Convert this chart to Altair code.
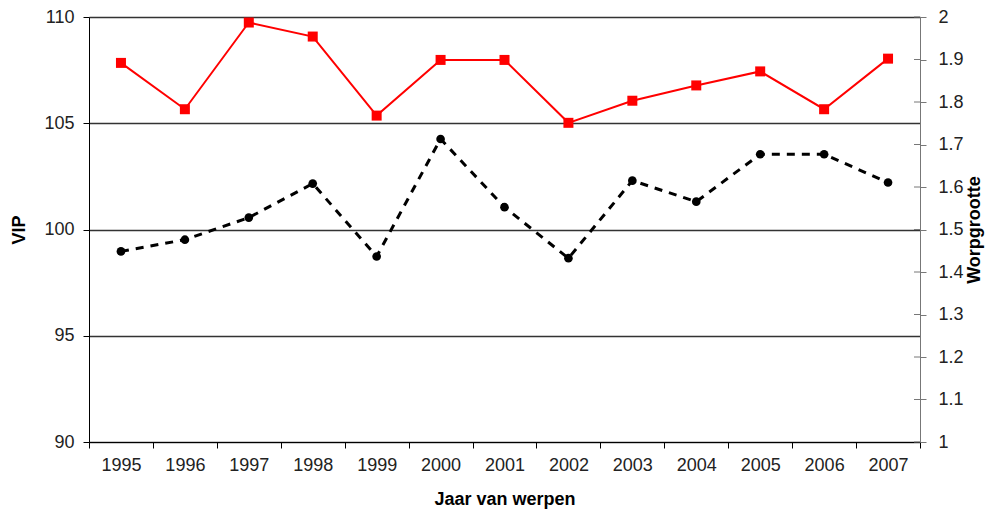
import altair as alt
import pandas as pd

years = ["1995", "1996", "1997", "1998", "1999", "2000", "2001",
         "2002", "2003", "2004", "2005", "2006", "2007"]
vip = [98.97, 99.52, 100.56, 102.16, 98.73, 104.26, 101.05,
       98.65, 102.30, 101.31, 103.54, 103.54, 102.21]
worpgrootte = [1.892, 1.783, 1.987, 1.954, 1.768, 1.899, 1.899,
               1.751, 1.803, 1.839, 1.872, 1.783, 1.902]
right_ticks = [1.0, 1.1, 1.2, 1.3, 1.4, 1.5, 1.6, 1.7, 1.8, 1.9, 2.0]

df = pd.DataFrame({"Jaar": years, "VIP": vip, "Worpgrootte": worpgrootte})
ticks_df = pd.DataFrame({"t": right_ticks})

FONT = "Liberation Sans"

x = alt.X(
    "Jaar:O",
    sort=years,
    scale=alt.Scale(paddingInner=0, paddingOuter=0),
    axis=alt.Axis(
        title="Jaar van werpen",
        labelAngle=0,
        tickBand="extent",
        tickSize=6,
        tickColor="#000000",
        domainColor="#000000",
        labelPadding=8,
        titlePadding=16,
        labelFontSize=18,
        titleFontSize=18,
        labelColor="#222222",
        grid=False,
    ),
)

left_y = alt.Y(
    "VIP:Q",
    scale=alt.Scale(domain=[90, 110], nice=False, zero=False),
    axis=alt.Axis(
        title="VIP",
        values=[90, 95, 100, 105, 110],
        tickSize=6,
        tickColor="#000000",
        domainColor="#000000",
        grid=True,
        gridColor="#333333",
        gridWidth=1.5,
        labelPadding=9,
        titlePadding=15,
        labelFontSize=18,
        titleFontSize=18,
        labelColor="#222222",
    ),
)

vip_line = alt.Chart(df).mark_line(
    color="black", strokeWidth=3, strokeDash=[8, 7],
    point=alt.OverlayMarkDef(filled=True, color="black", size=75, shape="circle"),
).encode(x=x, y=left_y)

right_scale = alt.Scale(domain=[1, 2], nice=False, zero=False)

worp_line = alt.Chart(df).mark_line(
    color="#ff0000", strokeWidth=2,
    point=alt.OverlayMarkDef(filled=True, color="#ff0000", size=100, shape="square"),
).encode(
    x=x,
    y=alt.Y(
        "Worpgrootte:Q",
        scale=right_scale,
        axis=alt.Axis(
            orient="right",
            title="Worpgrootte",
            titleAngle=270,
            titleBaseline="top",
            values=right_ticks,
            format=".1~f",
            tickSize=6,
            tickColor="#777777",
            domainColor="#777777",
            grid=False,
            labelPadding=12,
            titlePadding=2,
            labelFontSize=18,
            titleFontSize=18,
            labelColor="#222222",
        ),
    ),
)

inner_ticks = alt.Chart(ticks_df).mark_rule(color="#777777", strokeWidth=1).encode(
    y=alt.Y("t:Q", scale=right_scale, axis=None),
    x=alt.value(825),
    x2=alt.value(831),
)

chart = alt.layer(vip_line, worp_line, inner_ticks).resolve_scale(
    y="independent"
).properties(
    width=831,
    height=425,
    autosize=alt.AutoSizeParams(type="none"),
    padding={"left": 81, "top": 9, "right": 65, "bottom": 68},
).configure_view(
    stroke=None
).configure_axis(
    labelFont=FONT,
    titleFont=FONT,
    titleFontWeight="bold",
    titleColor="#000000",
).configure(background="white")

chart.save("out.html", embed_options={"renderer": "svg", "actions": False})
